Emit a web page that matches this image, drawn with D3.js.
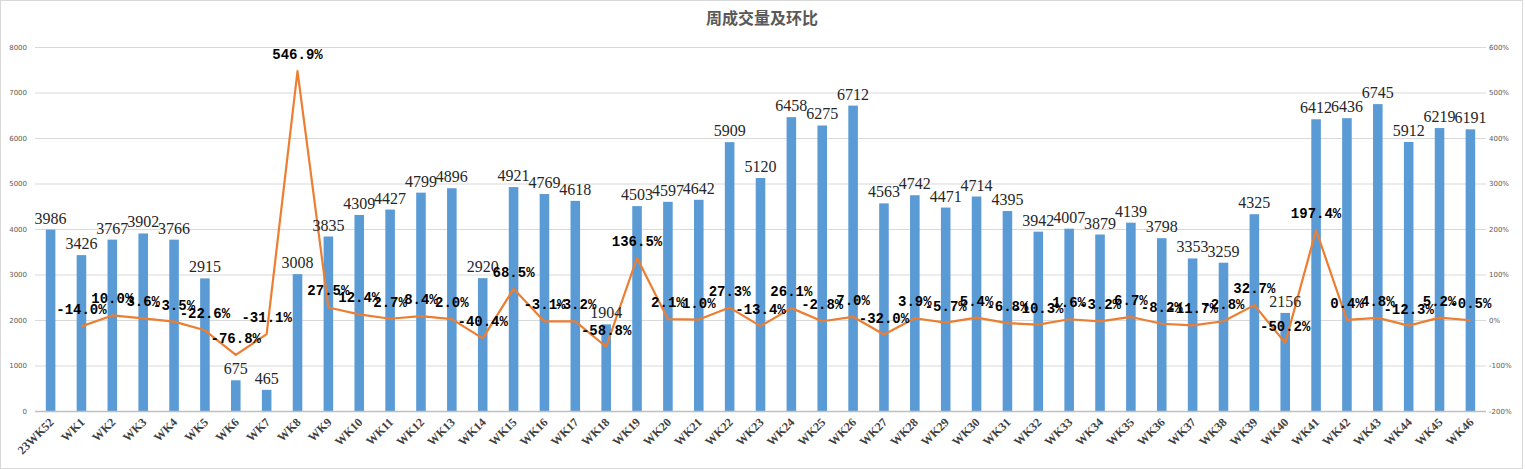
<!DOCTYPE html>
<html>
<head>
<meta charset="utf-8">
<script src="https://cdn.jsdelivr.net/npm/d3@7"></script>
<style>
body{margin:0;background:#fff;}
svg{display:block;}
</style>
</head>
<body>
<div id="chart"></div>
<script>
(function(){
	var W = 1525, H = 469;
	var margin = {left:35, right:39, top:47, bottom:58};

	// 数据
	var weeks = ["23WK52","WK1","WK2","WK3","WK4","WK5","WK6","WK7","WK8","WK9","WK10","WK11","WK12","WK13","WK14","WK15","WK16","WK17","WK18","WK19","WK20","WK21","WK22","WK23","WK24","WK25","WK26","WK27","WK28","WK29","WK30","WK31","WK32","WK33","WK34","WK35","WK36","WK37","WK38","WK39","WK40","WK41","WK42","WK43","WK44","WK45","WK46"];
	var volume = [3986,3426,3767,3902,3766,2915,675,465,3008,3835,4309,4427,4799,4896,2920,4921,4769,4618,1904,4503,4597,4642,5909,5120,6458,6275,6712,4563,4742,4471,4714,4395,3942,4007,3879,4139,3798,3353,3259,4325,2156,6412,6436,6745,5912,6219,6191];
	var ratio = [null,-14.0,10.0,3.6,-3.5,-22.6,-76.8,-31.1,546.9,27.5,12.4,2.7,8.4,2.0,-40.4,68.5,-3.1,-3.2,-58.8,136.5,2.1,1.0,27.3,-13.4,26.1,-2.8,7.0,-32.0,3.9,-5.7,5.4,-6.8,-10.3,1.6,-3.2,6.7,-8.2,-11.7,-2.8,32.7,-50.2,197.4,0.4,4.8,-12.3,5.2,-0.5];
	var leftTicks = [0,1000,2000,3000,4000,5000,6000,7000,8000];
	var rightTicks = [-200,-100,0,100,200,300,400,500,600];

	var svg = d3.select("#chart").append("svg")
		.attr("width", W).attr("height", H);

	// 外框
	svg.append("rect")
		.attr("x",0.5).attr("y",0.5)
		.attr("width",W-3).attr("height",H-1)
		.attr("fill","none").attr("stroke","#d9d9d9");

	svg.append("text")
		.attr("x", 762).attr("y", 24)
		.attr("text-anchor","middle")
		.attr("font-family","'Noto Sans CJK SC', sans-serif")
		.attr("font-weight","bold")
		.attr("font-size",16)
		.attr("fill","#595959")
		.text("周成交量及环比");

	var x = d3.scaleBand().domain(weeks)
		.range([margin.left, W-margin.right]).paddingInner(0.69).paddingOuter(0.35);
	var y = d3.scaleLinear().domain([0,8000]).range([H-margin.bottom, margin.top]);
	var y2 = d3.scaleLinear().domain([-200,600]).range([H-margin.bottom, margin.top]);

	// 网格线
	svg.append("g").selectAll("line")
		.data(leftTicks.filter(function(d){ return d>0; }))
		.enter().append("line")
		.attr("x1", margin.left).attr("x2", W-margin.right)
		.attr("y1", function(d){ return y(d)+0.5; })
		.attr("y2", function(d){ return y(d)+0.5; })
		.attr("stroke","#d9d9d9");

	// 左轴
	var yAxis = svg.append("g")
		.attr("transform","translate("+(margin.left-8)+",0)")
		.call(d3.axisLeft(y).tickValues(leftTicks).tickSize(0).tickPadding(0)
			.tickFormat(d3.format("d")));
	yAxis.select(".domain").remove();
	yAxis.selectAll("text")
		.attr("font-family","'DejaVu Sans', sans-serif")
		.attr("font-size",7)
		.attr("fill","#595959");

	// 右轴
	var y2Axis = svg.append("g")
		.attr("transform","translate("+(W-margin.right+3)+",0)")
		.call(d3.axisRight(y2).tickValues(rightTicks).tickSize(0).tickPadding(0)
			.tickFormat(function(d){ return d+"%"; }));
	y2Axis.select(".domain").remove();
	y2Axis.selectAll("text")
		.attr("font-family","'DejaVu Sans', sans-serif")
		.attr("font-size",7)
		.attr("fill","#595959");

	// 柱
	svg.append("g").selectAll("rect")
		.data(volume).enter().append("rect")
		.attr("x", function(d,i){ return x(weeks[i]); })
		.attr("width", x.bandwidth())
		.attr("y", function(d){ return y(d); })
		.attr("height", function(d){ return y(0)-y(d); })
		.attr("fill","#5b9bd5");

	// x轴
	svg.append("line")
		.attr("x1", margin.left).attr("x2", W-margin.right)
		.attr("y1", y(0)+0.5).attr("y2", y(0)+0.5)
		.attr("stroke","#bfbfbf").attr("stroke-width",1.5);

	svg.append("g").selectAll("text")
		.data(weeks).enter().append("text")
		.attr("transform", function(d){
			return "translate("+(x(d)+x.bandwidth()/2+4)+","+(y(0)+12)+") rotate(-45)";
		})
		.attr("text-anchor","end")
		.attr("font-family","'Liberation Serif', serif")
		.attr("font-weight","bold")
		.attr("font-size",12)
		.attr("fill","#404040")
		.text(function(d){ return d; });

	// 折线
	var line = d3.line()
		.defined(function(d){ return d!==null; })
		.x(function(d,i){ return x(weeks[i])+x.bandwidth()/2; })
		.y(function(d){ return y2(d); });
	svg.append("path")
		.datum(ratio)
		.attr("d", line)
		.attr("fill","none")
		.attr("stroke","#ed7d31")
		.attr("stroke-width",2.2)
		.attr("stroke-linejoin","round");

	// 柱标签
	svg.append("g").selectAll("text")
		.data(volume).enter().append("text")
		.attr("x", function(d,i){ return x(weeks[i])+x.bandwidth()/2; })
		.attr("y", function(d){ return y(d)-6; })
		.attr("text-anchor","middle")
		.attr("font-family","'Liberation Serif', serif")
		.attr("font-size",16)
		.attr("fill","#262626")
		.text(function(d){ return d; });

	// 环比标签
	svg.append("g").selectAll("text")
		.data(ratio).enter().append("text")
		.filter(function(d){ return d!==null; })
		.attr("x", function(d,i){ return x(weeks[i+1])+x.bandwidth()/2; })
		.attr("y", function(d){ return y2(d)-12; })
		.attr("text-anchor","middle")
		.attr("font-family","'Liberation Mono', monospace")
		.attr("font-weight","bold")
		.attr("font-size",14)
		.attr("fill","#000")
		.text(function(d){ return d.toFixed(1)+"%"; });
})();
</script>
</body>
</html>
